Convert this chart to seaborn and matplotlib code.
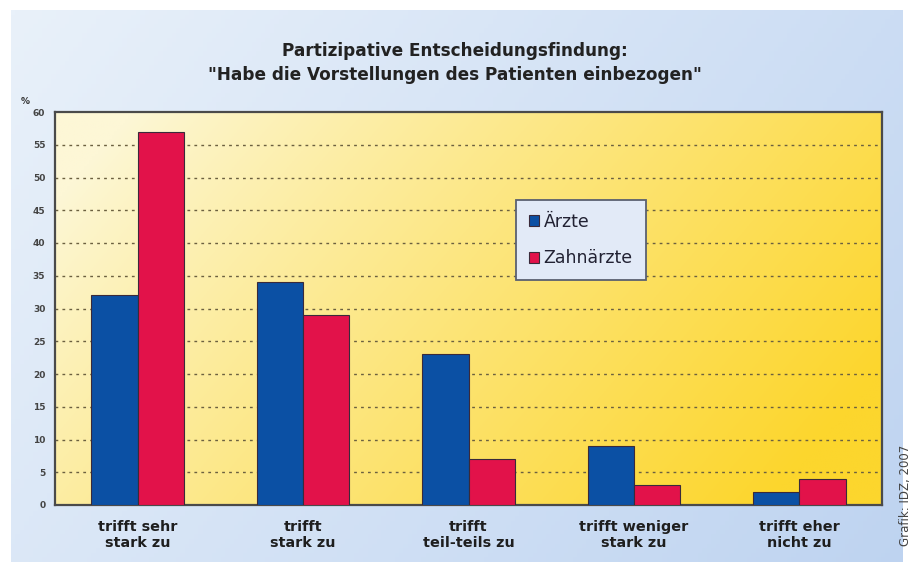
import numpy as np
import pandas as pd
import matplotlib
matplotlib.use("Agg")
import matplotlib.pyplot as plt
import seaborn as sns

categories = ["trifft sehr\nstark zu", "trifft\nstark zu", "trifft\nteil-teils zu",
              "trifft weniger\nstark zu", "trifft eher\nnicht zu"]
aerzte = [32, 34, 23, 9, 2]
zahnaerzte = [57, 29, 7, 3, 4]
series_names = ["Ärzte", "Zahnärzte"]
yticks = list(range(0, 61, 5))
title = 'Partizipative Entscheidungsfindung:\n"Habe die Vorstellungen des Patienten einbezogen"'

df = pd.DataFrame({
    "cat": categories * 2,
    "val": aerzte + zahnaerzte,
    "grp": [series_names[0]] * len(categories) + [series_names[1]] * len(categories),
})

sns.set_theme(style="white")
plt.rcParams['font.family'] = ['DejaVu Sans']

W, H = 911, 562
fig = plt.figure(figsize=(W / 100, H / 100), dpi=100)
fig.patch.set_facecolor("white")

# light blue background panel
bg = fig.add_axes([11 / W, 0, (903 - 11) / W, (H - 10) / H])
bg.set_axis_off()
u = np.linspace(0, 1, 200)[None, :]
v = np.linspace(1, 0, 120)[:, None]
t = np.clip(0.65 * u + 0.3 * (1 - v), 0, 1)
c0 = np.array([233, 241, 250]) / 255
c1 = np.array([188, 210, 240]) / 255
img = c0[None, None, :] * (1 - t[..., None]) + c1[None, None, :] * t[..., None]
bg.imshow(img, aspect="auto", extent=[0, 1, 0, 1], origin="upper")
bg.set_xlim(0, 1)
bg.set_ylim(0, 1)

# main axes
ax = fig.add_axes([55 / W, (H - 505) / H, 827 / W, (505 - 112) / H])
ax.set_zorder(2)
u = np.linspace(0, 1, 300)[None, :]
v = np.linspace(1, 0, 200)[:, None]
t = np.clip(0.85 * u + 0.35 * (1 - v) - 0.08, 0, 1) ** 0.9
y0 = np.array([253, 247, 214]) / 255
y1 = np.array([252, 214, 45]) / 255
pimg = y0[None, None, :] * (1 - t[..., None]) + y1[None, None, :] * t[..., None]
ax.imshow(pimg, aspect="auto", extent=[-0.5, 4.5, 0, 60], origin="upper", zorder=0)

sns.barplot(data=df, x="cat", y="val", hue="grp", palette=["#0b50a4", "#e2124a"],
            width=0.56, edgecolor="#3a2a3a", linewidth=0.8, ax=ax, zorder=3,
            saturation=1)

ax.set_xlim(-0.5, 4.5)
ax.set_ylim(0, 60)
ax.set_yticks(yticks)
ax.set_yticklabels([str(y) for y in yticks], fontsize=6.5, fontweight="bold", color="#444444")
ax.tick_params(axis="y", length=0, pad=7)
ax.tick_params(axis="x", length=0, pad=11)
for lab in ax.get_xticklabels():
    lab.set_fontsize(10.4)
    lab.set_fontweight("bold")
    lab.set_color("#1e1e1e")
    lab.set_linespacing(1.15)
ax.set_xlabel("")
ax.set_ylabel("")
for y in yticks[1:-1]:
    ax.axhline(y, color="#6b6040", linestyle=(0, (2, 3)), linewidth=1.0, zorder=1)
for s in ax.spines.values():
    s.set_color("#4a4a4a")
    s.set_linewidth(1.6)
    s.set_visible(True)

leg = ax.legend(loc="upper left", bbox_to_anchor=(0.557, 0.776), fontsize=12.5,
                frameon=True, fancybox=False, framealpha=1, handlelength=0.6,
                handleheight=0.6, labelspacing=1.05, borderpad=0.75,
                handletextpad=0.25, borderaxespad=0)
leg.get_frame().set_facecolor("#e2eaf7")
leg.get_frame().set_edgecolor("#5a6070")
leg.get_frame().set_linewidth(1.3)
for txt in leg.get_texts():
    txt.set_color("#222233")
leg.set_zorder(5)

fig.text(455 / W, 1 - 63 / H, title, ha="center", va="center", fontsize=12.2,
         fontweight="bold", color="#222222", linespacing=1.4)
fig.text(21 / W, 1 - 101 / H, "%", ha="left", va="center", fontsize=6.5,
         fontweight="bold", color="#333333")
fig.text(906 / W, 1 - 445 / H, "Grafik: IDZ, 2007", rotation=90, ha="center",
         va="top", fontsize=8.5, color="#444444")

fig.savefig("out.png", dpi=100)
